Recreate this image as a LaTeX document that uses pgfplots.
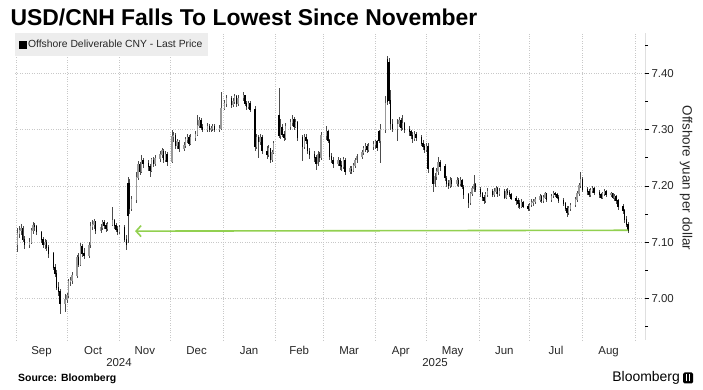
\documentclass[border=0pt]{standalone}
\usepackage{pgfplots}
\pgfplotsset{compat=1.18}
\usepackage{pgfplotstable}
\usetikzlibrary{arrows.meta}
\usepackage{fontspec}
\setmainfont{Liberation Sans}
\definecolor{cnhgreen}{RGB}{146,208,80}
\definecolor{gridc}{RGB}{200,200,200}
\pgfplotstableread{
x o h l c
1 7.095 7.125 7.082 7.115
2 7.115 7.128 7.108 7.120
3 7.120 7.132 7.112 7.125
4 7.125 7.128 7.100 7.105
5 7.105 7.110 7.088 7.095
8 7.095 7.108 7.090 7.100
9 7.100 7.126 7.096 7.120
10 7.120 7.136 7.115 7.130
11 7.130 7.134 7.120 7.128
12 7.128 7.130 7.112 7.118
15 7.118 7.120 7.098 7.105
16 7.105 7.110 7.090 7.095
17 7.095 7.106 7.088 7.100
18 7.100 7.104 7.084 7.090
19 7.090 7.094 7.072 7.080
22 7.080 7.082 7.050 7.055
23 7.055 7.062 7.038 7.045
24 7.045 7.050 7.015 7.020
25 7.020 7.030 7.005 7.012
26 7.012 7.016 6.973 6.990
29 6.990 7.008 6.975 6.998
30 6.998 7.010 6.992 7.005
31 7.005 7.034 7.000 7.030
32 7.030 7.038 7.022 7.032
33 7.032 7.046 7.026 7.040
36 7.040 7.078 7.036 7.072
37 7.072 7.080 7.055 7.060
38 7.060 7.098 7.058 7.092
39 7.092 7.096 7.074 7.080
40 7.080 7.090 7.070 7.076
43 7.076 7.100 7.072 7.095
44 7.095 7.136 7.090 7.128
45 7.128 7.140 7.122 7.132
46 7.132 7.142 7.124 7.136
47 7.136 7.138 7.115 7.120
50 7.120 7.132 7.116 7.126
51 7.126 7.140 7.122 7.135
52 7.135 7.140 7.124 7.130
53 7.130 7.134 7.118 7.124
54 7.124 7.136 7.120 7.132
57 7.132 7.163 7.128 7.138
58 7.138 7.142 7.124 7.130
59 7.130 7.134 7.118 7.122
60 7.122 7.128 7.112 7.118
61 7.118 7.130 7.114 7.126
64 7.126 7.130 7.100 7.105
65 7.105 7.112 7.086 7.095
66 7.205 7.215 7.098 7.148
67 7.205 7.212 7.150 7.160
68 7.160 7.182 7.155 7.175
71 7.175 7.225 7.170 7.215
72 7.215 7.245 7.210 7.238
73 7.238 7.242 7.220 7.226
74 7.226 7.255 7.222 7.246
75 7.246 7.250 7.232 7.240
78 7.240 7.246 7.226 7.234
79 7.234 7.238 7.216 7.228
80 7.228 7.250 7.224 7.246
81 7.246 7.252 7.234 7.240
82 7.240 7.254 7.236 7.248
85 7.248 7.262 7.242 7.255
86 7.255 7.268 7.250 7.262
87 7.262 7.266 7.240 7.246
88 7.246 7.262 7.242 7.256
89 7.256 7.260 7.236 7.244
92 7.244 7.300 7.240 7.288
93 7.288 7.296 7.278 7.290
94 7.290 7.294 7.266 7.272
95 7.272 7.284 7.266 7.278
96 7.278 7.282 7.260 7.266
99 7.266 7.278 7.262 7.272
100 7.272 7.286 7.268 7.282
101 7.282 7.292 7.276 7.286
102 7.286 7.290 7.270 7.276
103 7.276 7.292 7.272 7.286
106 7.286 7.298 7.280 7.292
107 7.292 7.326 7.288 7.308
108 7.308 7.322 7.302 7.316
109 7.316 7.320 7.300 7.304
110 7.304 7.310 7.296 7.300
113 7.300 7.312 7.296 7.306
114 7.306 7.310 7.296 7.300
115 7.300 7.306 7.296 7.302
116 7.302 7.310 7.298 7.306
117 7.306 7.310 7.296 7.300
120 7.300 7.308 7.296 7.302
121 7.302 7.366 7.300 7.338
123 7.338 7.352 7.334 7.346
124 7.346 7.362 7.340 7.356
127 7.356 7.360 7.338 7.344
128 7.344 7.356 7.340 7.350
129 7.350 7.364 7.346 7.358
130 7.358 7.362 7.340 7.346
131 7.346 7.362 7.342 7.356
134 7.356 7.366 7.350 7.360
135 7.360 7.362 7.342 7.346
136 7.346 7.350 7.334 7.340
137 7.340 7.350 7.336 7.346
138 7.346 7.350 7.332 7.336
141 7.336 7.342 7.262 7.270
142 7.270 7.292 7.266 7.286
143 7.286 7.290 7.250 7.278
144 7.278 7.292 7.272 7.286
145 7.286 7.290 7.256 7.262
148 7.262 7.270 7.248 7.256
149 7.256 7.272 7.252 7.266
150 7.266 7.268 7.240 7.246
151 7.246 7.264 7.242 7.260
152 7.260 7.280 7.256 7.276
155 7.325 7.374 7.285 7.290
156 7.290 7.318 7.284 7.304
157 7.304 7.310 7.286 7.292
158 7.292 7.298 7.280 7.286
159 7.286 7.312 7.282 7.306
162 7.306 7.318 7.300 7.312
163 7.312 7.326 7.306 7.318
164 7.318 7.322 7.300 7.306
165 7.306 7.318 7.302 7.312
166 7.312 7.316 7.280 7.286
169 7.286 7.290 7.244 7.270
170 7.270 7.292 7.266 7.286
171 7.286 7.292 7.274 7.280
172 7.280 7.284 7.256 7.262
173 7.262 7.268 7.248 7.256
176 7.256 7.262 7.242 7.250
177 7.250 7.254 7.228 7.240
178 7.240 7.262 7.236 7.256
179 7.256 7.260 7.242 7.250
180 7.250 7.296 7.246 7.290
183 7.290 7.306 7.282 7.296
184 7.296 7.300 7.276 7.280
185 7.280 7.284 7.246 7.252
186 7.252 7.258 7.240 7.246
187 7.246 7.252 7.232 7.240
190 7.240 7.252 7.236 7.246
191 7.246 7.250 7.228 7.236
192 7.236 7.244 7.226 7.234
193 7.234 7.252 7.230 7.246
194 7.246 7.250 7.220 7.226
197 7.226 7.236 7.222 7.230
198 7.230 7.236 7.222 7.228
199 7.228 7.240 7.224 7.236
200 7.236 7.250 7.232 7.246
201 7.246 7.256 7.240 7.252
204 7.252 7.264 7.248 7.260
205 7.260 7.270 7.254 7.266
206 7.266 7.276 7.260 7.270
207 7.270 7.274 7.258 7.264
208 7.264 7.276 7.260 7.270
211 7.270 7.280 7.264 7.274
212 7.274 7.282 7.266 7.278
213 7.278 7.282 7.262 7.268
214 7.296 7.300 7.276 7.280
215 7.280 7.310 7.240 7.300
218 7.300 7.360 7.294 7.346
219 7.424 7.430 7.344 7.350
220 7.420 7.428 7.346 7.352
221 7.352 7.370 7.300 7.310
222 7.310 7.318 7.296 7.302
225 7.302 7.318 7.280 7.310
226 7.310 7.322 7.304 7.316
227 7.316 7.320 7.298 7.304
228 7.304 7.326 7.300 7.310
229 7.310 7.314 7.294 7.300
232 7.300 7.306 7.288 7.296
233 7.296 7.300 7.284 7.290
234 7.290 7.296 7.276 7.284
235 7.284 7.298 7.280 7.292
236 7.292 7.296 7.280 7.286
239 7.286 7.290 7.270 7.276
240 7.276 7.282 7.264 7.270
241 7.270 7.274 7.258 7.264
242 7.264 7.276 7.260 7.270
243 7.270 7.276 7.222 7.230
246 7.230 7.234 7.190 7.204
247 7.204 7.222 7.198 7.216
248 7.216 7.232 7.210 7.226
249 7.226 7.252 7.220 7.242
250 7.242 7.246 7.226 7.234
253 7.234 7.238 7.208 7.214
254 7.214 7.218 7.198 7.204
255 7.204 7.210 7.194 7.200
256 7.200 7.216 7.196 7.210
257 7.210 7.214 7.198 7.204
260 7.204 7.216 7.200 7.210
261 7.210 7.214 7.198 7.204
262 7.204 7.216 7.200 7.210
263 7.210 7.212 7.194 7.198
264 7.198 7.202 7.176 7.184
267 7.184 7.188 7.160 7.170
268 7.170 7.190 7.166 7.186
269 7.186 7.200 7.182 7.195
270 7.195 7.220 7.190 7.202
271 7.202 7.206 7.190 7.194
274 7.194 7.198 7.180 7.186
275 7.186 7.190 7.174 7.180
276 7.180 7.184 7.168 7.174
277 7.174 7.190 7.170 7.185
278 7.185 7.196 7.180 7.190
281 7.190 7.194 7.180 7.184
282 7.184 7.196 7.180 7.190
283 7.190 7.200 7.186 7.196
284 7.196 7.198 7.180 7.186
285 7.186 7.196 7.182 7.190
288 7.190 7.194 7.176 7.180
289 7.180 7.194 7.176 7.190
290 7.190 7.196 7.184 7.188
291 7.188 7.192 7.180 7.184
292 7.184 7.188 7.174 7.178
295 7.178 7.182 7.166 7.174
296 7.174 7.178 7.160 7.168
297 7.168 7.174 7.158 7.164
298 7.164 7.176 7.160 7.170
299 7.170 7.174 7.160 7.164
302 7.164 7.168 7.156 7.160
303 7.160 7.170 7.156 7.166
304 7.166 7.176 7.162 7.170
305 7.170 7.176 7.164 7.172
306 7.172 7.180 7.168 7.176
309 7.176 7.186 7.172 7.182
310 7.182 7.184 7.170 7.174
311 7.174 7.184 7.170 7.180
312 7.180 7.190 7.176 7.186
313 7.186 7.188 7.172 7.176
316 7.176 7.186 7.172 7.182
317 7.182 7.190 7.178 7.186
318 7.186 7.190 7.180 7.184
319 7.184 7.188 7.176 7.180
320 7.180 7.184 7.170 7.174
323 7.174 7.178 7.164 7.168
324 7.168 7.172 7.156 7.160
325 7.160 7.164 7.145 7.152
326 7.152 7.164 7.148 7.160
327 7.160 7.170 7.156 7.166
330 7.166 7.180 7.162 7.176
331 7.176 7.190 7.172 7.186
332 7.186 7.206 7.182 7.200
333 7.200 7.224 7.196 7.212
334 7.212 7.216 7.190 7.194
337 7.194 7.198 7.184 7.190
338 7.190 7.194 7.180 7.184
339 7.184 7.196 7.180 7.192
340 7.192 7.200 7.188 7.196
341 7.196 7.198 7.184 7.188
344 7.188 7.192 7.178 7.184
345 7.184 7.188 7.176 7.180
346 7.180 7.190 7.176 7.186
347 7.186 7.194 7.182 7.190
348 7.190 7.192 7.180 7.184
351 7.184 7.190 7.180 7.186
352 7.186 7.188 7.176 7.180
353 7.180 7.186 7.174 7.182
354 7.182 7.184 7.168 7.174
355 7.174 7.176 7.158 7.164
358 7.164 7.168 7.150 7.156
359 7.156 7.158 7.134 7.140
360 7.140 7.146 7.126 7.132
361 7.132 7.136 7.116 7.120
}\cnh
\begin{document}
\begin{tikzpicture}
\useasboundingbox (0,0) rectangle (703bp,390bp);
\begin{axis}[
  at={(15bp,50bp)}, anchor=south west,
  scale only axis, width=630bp, height=307bp,
  xmin=-0.6, xmax=371, ymin=6.926, ymax=7.4716,
  axis line style={draw=none},
  xtick={0,30,61,91,122,153,181,212,242,273,303,334,365},
  xticklabels={},
  xtick style={draw=none},
  xmajorgrids,
  extra x ticks={15,45.5,76,106.5,137.5,167,196.5,227,257.5,288,318.5,349.5},
  extra x tick labels={Sep,Oct,Nov,Dec,Jan,Feb,Mar,Apr,May,Jun,Jul,Aug},
  extra x tick style={grid=none, xtick style={draw=none}},
  ytick={7.0,7.1,7.2,7.3,7.4},
  minor ytick={6.95,7.05,7.15,7.25,7.35,7.45},
  ymajorgrids,
  ytick pos=right, yticklabel pos=right,
  tick align=outside,
  major tick length=4bp, minor tick length=3bp,
  tick style={black, line width=0.6bp},
  grid style={gridc, dotted, line width=0.6bp},
  /pgf/number format/assume math mode=true,
  ticklabel style={font=\fontsize{11.5}{13}\selectfont, text=black!85},
  yticklabel style={/pgf/number format/.cd, fixed, fixed zerofill, precision=2, /tikz/.cd, xshift=-1bp},
  xticklabel style={yshift=1bp},
  legend style={at={(0,1)}, anchor=north west, draw=none, fill=black!7,
    font=\fontsize{10.4}{12}\selectfont, text=black!85, inner xsep=4bp, inner ysep=5bp},
  legend cell align=left,
]
\addlegendimage{legend image code/.code={\fill[black] (0bp,-3.5bp) rectangle (6.5bp,3.5bp);}}
\addlegendentry{Offshore Deliverable CNY - Last Price}
% wicks
\addplot[draw=none, mark=none, forget plot,
  error bars/.cd, y dir=both, y explicit, error mark=none,
  error bar style={draw=black!70, line width=0.55bp}]
  table[x=x, y expr={(\thisrow{h}+\thisrow{l})/2}, y error expr={(\thisrow{h}-\thisrow{l})/2}] {\cnh};
% up bodies (gray)
\addplot[draw=none, mark=none, forget plot,
  restrict expr to domain={\thisrow{c}-\thisrow{o}}{0.00001:1},
  error bars/.cd, y dir=both, y explicit, error mark=none,
  error bar style={draw=black!40, line width=1.4bp}]
  table[x=x, y expr={(\thisrow{o}+\thisrow{c})/2}, y error expr={abs(\thisrow{o}-\thisrow{c})/2+0.0008}] {\cnh};
% down bodies (black)
\addplot[draw=none, mark=none, forget plot,
  restrict expr to domain={\thisrow{o}-\thisrow{c}}{0:1},
  error bars/.cd, y dir=both, y explicit, error mark=none,
  error bar style={draw=black, line width=1.4bp}]
  table[x=x, y expr={(\thisrow{o}+\thisrow{c})/2}, y error expr={abs(\thisrow{o}-\thisrow{c})/2+0.0008}] {\cnh};
% green arrow
\addplot[forget plot, color=cnhgreen, line width=1.6bp, arrows={Straight Barb[length=5bp,width=11bp,line width=1.6bp]-}]
  coordinates {(70.2,7.1195) (361,7.121)};
\draw[black, line width=1bp] (rel axis cs:1,0) -- (rel axis cs:1,1);
\end{axis}
\node[anchor=base west, font=\fontsize{23}{26}\selectfont\bfseries] at (7bp,364bp) {USD/CNH Falls To Lowest Since November};
\node[font=\fontsize{11.5}{13}\selectfont, text=black!85] at (119bp,27bp) {2024};
\node[font=\fontsize{11.5}{13}\selectfont, text=black!85] at (435bp,27bp) {2025};
\node[anchor=west, font=\fontsize{10.5}{12}\selectfont\bfseries, inner sep=0pt] at (18bp,11bp) {Source: Bloomberg};
\node[rotate=-90, font=\fontsize{13.5}{15}\selectfont, text=black!85] at (686bp,212bp) {Offshore yuan per dollar};
\node[anchor=east, font=\fontsize{14}{16}\selectfont, inner sep=0pt] at (680bp,12bp) {Bloomberg};
\fill[black, rounded corners=1.5bp] (683bp,6.5bp) rectangle (693bp,17.5bp);
\draw[white, line width=0.7bp] (686.5bp,8.5bp) -- (686.5bp,15.5bp) (689.5bp,8.5bp) -- (689.5bp,15.5bp);
\end{tikzpicture}
\end{document}
